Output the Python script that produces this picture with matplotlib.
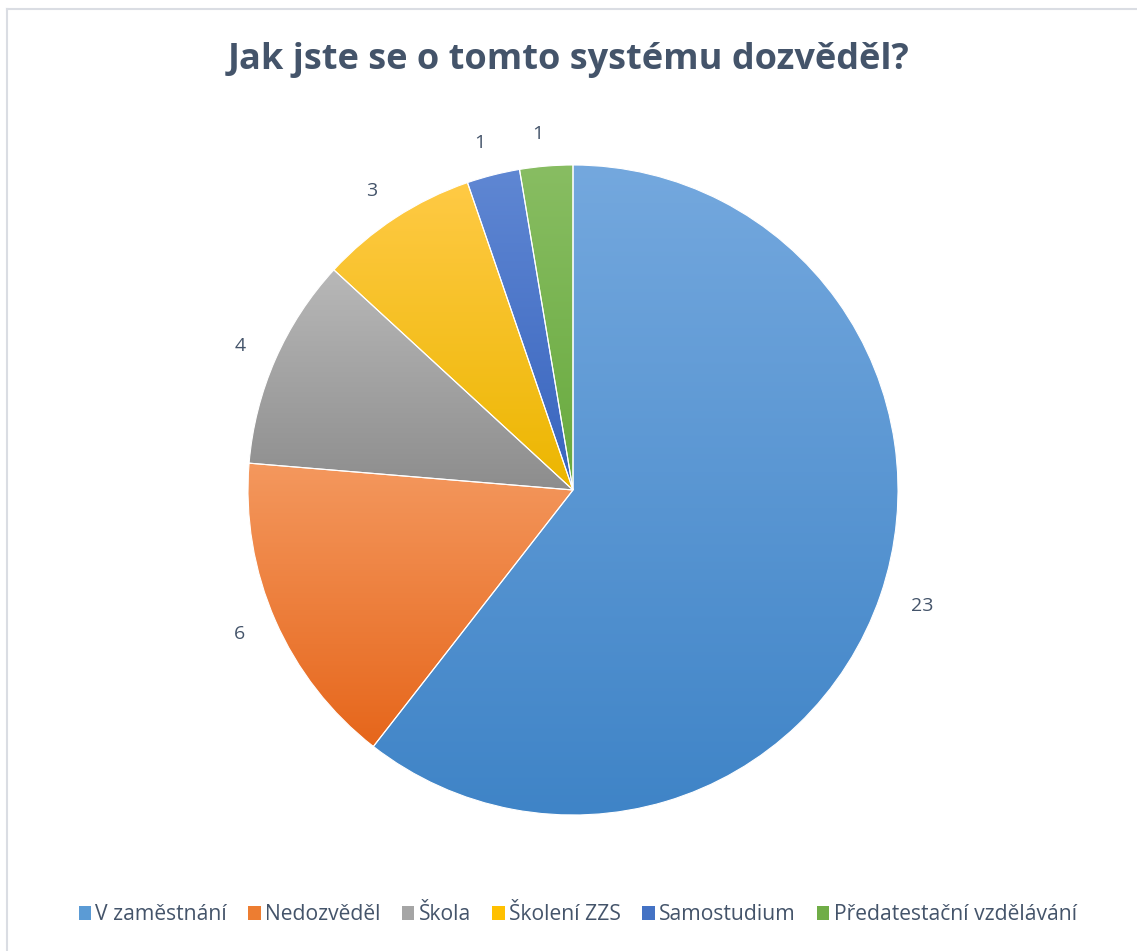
import numpy as np
import matplotlib.pyplot as plt
from matplotlib.lines import Line2D
from matplotlib.patches import Patch
from matplotlib.colors import LinearSegmentedColormap

plt.rcParams['font.family'] = ['Open Sans', 'DejaVu Sans']

kategorie = ["V zaměstnání", "Nedozvěděl", "Škola", "Školení ZZS", "Samostudium", "Předatestační vzdělávání"]
pocty = [23, 6, 4, 3, 1, 1]
# svetla (nahore) a tmava (dole) barva kazdeho dilku
barvy_svetle = ["#74a8de", "#f4985e", "#b8b8b8", "#ffca45", "#5f87d3", "#88bd62"]
barvy_tmave = ["#3f84c7", "#e6661b", "#8d8d8d", "#ecb600", "#3864be", "#68aa3e"]
barvy_stred = ["#5b9bd5", "#ed7d31", "#a5a5a5", "#ffc000", "#4472c4", "#70ad47"]

W, H = 1137, 951
fig = plt.figure(figsize=(W / 100, H / 100), dpi=100)

cx, cy, R = 573, 490, 325
ax = fig.add_axes([(cx - R) / W, (H - cy - R) / H, 2 * R / W, 2 * R / H])

wedges, texty = ax.pie(pocty, startangle=90, counterclock=False, labels=[str(p) for p in pocty],
                       labeldistance=1.1,
                       wedgeprops=dict(edgecolor="white", linewidth=0.8),
                       textprops=dict(color="#44546a", fontsize=14))

# prechod barvy shora dolu v kazdem dilku
for w, sv, tm in zip(wedges, barvy_svetle, barvy_tmave):
    ext = w.get_path().get_extents()
    cmap = LinearSegmentedColormap.from_list("g", [tm, sv])
    grad = np.linspace(0, 1, 256).reshape(-1, 1)
    im = ax.imshow(grad, cmap=cmap, origin="lower", aspect="auto",
                   extent=(ext.x0, ext.x1, ext.y0, ext.y1), zorder=w.get_zorder() - 0.1)
    im.set_clip_path(w)
    w.set_facecolor("none")

ax.set_xlim(-1, 1)
ax.set_ylim(-1, 1)
ax.axis("off")

fig.text(0.5, 1 - 60 / H, "Jak jste se o tomto systému dozvěděl?", ha="center", va="center",
         fontsize=26, fontweight="bold", color="#44546a")

handles = [Patch(facecolor=c, edgecolor="none") for c in barvy_stred]
fig.legend(handles, kategorie, loc="center", bbox_to_anchor=(0.508, 1 - 915 / H), ncol=6,
           frameon=False, fontsize=15.2, handlelength=0.6, handleheight=0.6,
           handletextpad=0.2, columnspacing=1.0, labelcolor="#44546a")

# tenky ramecek vlevo a nahore
fig.add_artist(Line2D([7 / W, 7 / W], [0, 1 - 9 / H], color="#dadde3", linewidth=1.5, transform=fig.transFigure))
fig.add_artist(Line2D([7 / W, 1], [1 - 9 / H, 1 - 9 / H], color="#dadde3", linewidth=1.5, transform=fig.transFigure))

fig.savefig("out.png", dpi=100)
